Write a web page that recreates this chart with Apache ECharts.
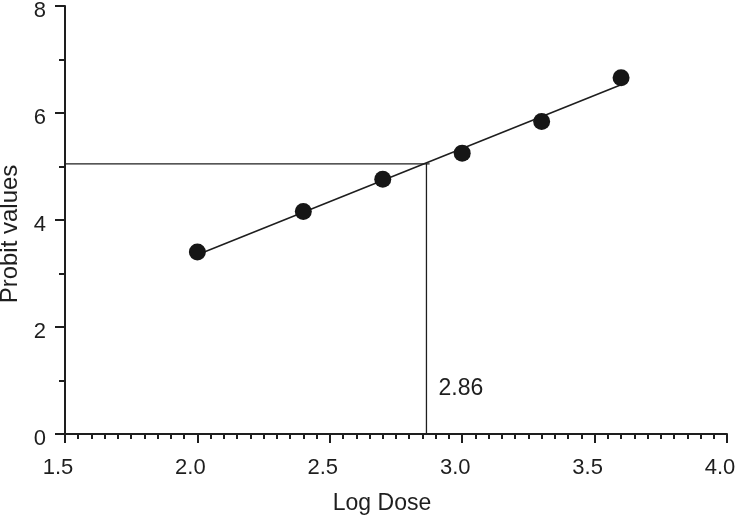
<!DOCTYPE html>
<html>
<head>
<meta charset="utf-8">
<script src="https://cdn.jsdelivr.net/npm/echarts@6/dist/echarts.min.js"></script>
<style>html,body{margin:0;padding:0;background:#fff}#c{width:736px;height:516px}</style>
</head>
<body>
<div id="c"></div>
<script>
var logDose = [2.0, 2.4, 2.7, 3.0, 3.3, 3.6];
var probit = [3.40, 4.16, 4.76, 5.25, 5.84, 6.66];
var fitX = [2.0, 3.6];
var fitY = [3.35, 6.53];
var refX = 2.865;
var refY = 5.05;
var refLabel = '2.86';
var xTicks = [1.5, 2.0, 2.5, 3.0, 3.5, 4.0];
var yTicks = [0, 2, 4, 6, 8];

var ink = '#1e1e1e';
var font = 'Liberation Sans, Arial, sans-serif';
var chart = echarts.init(document.getElementById('c'));
chart.setOption({
  animation: false,
  grid: {left: 65, right: 9, top: 6, bottom: 82, containLabel: false, outerBoundsMode: 'none'},
  xAxis: {
    type: 'value', min: xTicks[0], max: xTicks[xTicks.length - 1], interval: 0.5,
    name: 'Log Dose', nameLocation: 'middle', nameGap: 58,
    nameTextStyle: {fontSize: 23, color: ink, fontFamily: font, padding: [0, 28, 0, 0]},
    axisLine: {lineStyle: {color: ink, width: 2}},
    axisTick: {show: true, length: 9, lineStyle: {color: ink, width: 2}},
    minorTick: {show: true, splitNumber: 10, length: 5, lineStyle: {color: ink, width: 2}},
    splitLine: {show: false},
    axisLabel: {fontSize: 22, color: ink, fontFamily: font, margin: 23, padding: [0, 14, 0, 0],
      formatter: function (v) { return v.toFixed(1); }}
  },
  yAxis: {
    type: 'value', min: yTicks[0], max: yTicks[yTicks.length - 1], interval: 2,
    name: 'Probit values', nameLocation: 'middle', nameGap: 41,
    nameTextStyle: {fontSize: 24, color: ink, fontFamily: font, padding: [0, 28, 0, 0]},
    axisLine: {show: true, lineStyle: {color: ink, width: 2}},
    axisTick: {show: true, length: 10, lineStyle: {color: ink, width: 2}},
    minorTick: {show: true, splitNumber: 2, length: 6, lineStyle: {color: ink, width: 2}},
    splitLine: {show: false},
    axisLabel: {fontSize: 22, color: ink, fontFamily: font, margin: 19,
      verticalAlign: 'top', lineHeight: 9}
  },
  series: [
    {
      type: 'line', data: [[xTicks[0], refY], [refX + 0.012, refY]],
      symbol: 'none', lineStyle: {color: ink, width: 1.3}, z: 1
    },
    {
      type: 'line', data: [[refX, 0], [refX, refY]],
      symbol: 'none', lineStyle: {color: ink, width: 1.3}, z: 1
    },
    {
      type: 'line', data: fitX.map(function (x, i) { return [x, fitY[i]]; }),
      symbol: 'none', lineStyle: {color: ink, width: 1.6}, z: 2
    },
    {
      type: 'scatter', data: logDose.map(function (x, i) { return [x, probit[i]]; }),
      symbolSize: 17, itemStyle: {color: '#161616', opacity: 1}, z: 3
    },
    {
      type: 'scatter', data: [[refX, 0.84]], symbolSize: 0,
      itemStyle: {opacity: 1},
      label: {show: true, position: 'right', distance: 12, formatter: refLabel,
        fontSize: 23, color: ink, fontFamily: font}
    }
  ]
});
</script>
</body>
</html>
